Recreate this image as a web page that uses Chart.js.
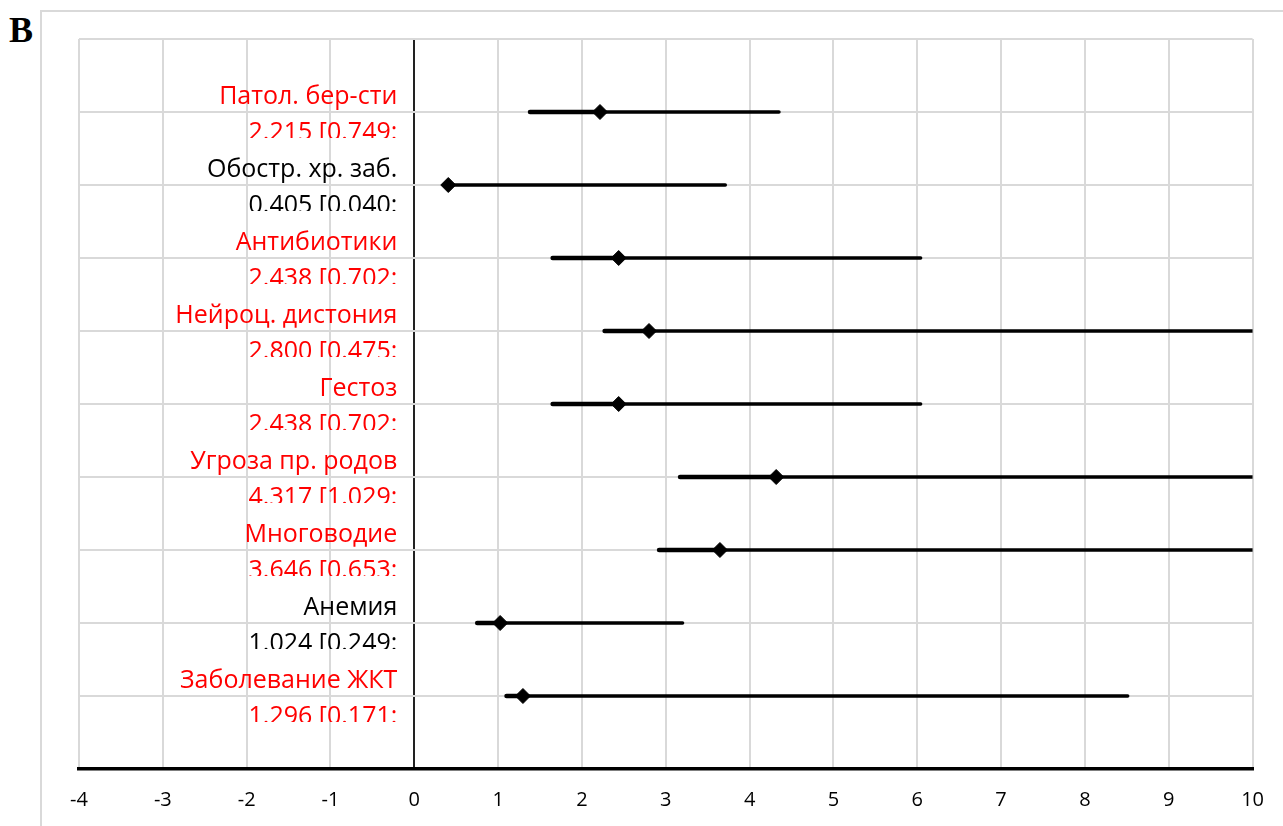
<!DOCTYPE html>
<html>
<head>
<meta charset="utf-8">
<script src="https://cdn.jsdelivr.net/npm/chart.js@4.4.1/dist/chart.umd.min.js"></script>
<style>
  html, body { margin: 0; padding: 0; background: #fff; overflow: hidden; }
  .page { position: relative; width: 1283px; height: 826px; overflow: hidden; }
  .frame { position: absolute; left: 40px; top: 10px; width: 1400px; height: 1000px; border: 2px solid #d9d9d9; }
  .panel-letter { position: absolute; left: 9px; top: 9px; font: bold 36px "Liberation Serif", "DejaVu Serif", serif; color: #000; }
  #forest { position: absolute; left: 0; top: 0; }
</style>
</head>
<body>
<div class="page">
  <div class="frame"></div>
  <div class="panel-letter">B</div>
  <canvas id="forest" width="1283" height="826"></canvas>
</div>
<script>
// rows, top to bottom
const rowNames = ['Патол. бер-сти', 'Обостр. хр. заб.', 'Антибиотики', 'Нейроц. дистония', 'Гестоз',
  'Угроза пр. родов', 'Многоводие', 'Анемия', 'Заболевание ЖКТ'];
const rowStats = ['2.215 [0.749:', '0.405 [0.040:', '2.438 [0.702:', '2.800 [0.475:', '2.438 [0.702:',
  '4.317 [1.029:', '3.646 [0.653:', '1.024 [0.249:', '1.296 [0.171:'];
const rowPos = [9, 8, 7, 6, 5, 4, 3, 2, 1];
const significant = [true, false, true, true, true, true, true, false, true];

// odds ratio and the drawn whisker ends
const oddsRatio = [2.215, 0.405, 2.438, 2.800, 2.438, 4.317, 3.646, 1.024, 1.296];
const barLow = [1.38, 0.405, 1.65, 2.27, 1.65, 3.17, 2.92, 0.75, 1.10];
const barHigh = [4.35, 3.71, 6.04, 12, 6.04, 12, 12, 3.20, 8.51];

const xMin = -4, xMax = 10, yMin = 0, yMax = 10;

const lowSegs = rowPos.map((y, i) => ({
  type: 'line',
  data: [{ x: barLow[i], y: y }, { x: oddsRatio[i], y: y }],
  borderColor: '#000', borderWidth: 4.5, borderCapStyle: 'round',
  pointRadius: 0, showLine: true
}));
const highSegs = rowPos.map((y, i) => ({
  type: 'line',
  data: [{ x: oddsRatio[i], y: y }, { x: barHigh[i], y: y }],
  borderColor: '#000', borderWidth: 3.5, borderCapStyle: 'round',
  pointRadius: 0, showLine: true
}));

const rowLabels = {
  id: 'rowLabels',
  afterDraw(chart) {
    const ctx = chart.ctx;
    const xs = chart.scales.x, ys = chart.scales.y;
    const right = xs.getPixelForValue(0) - 17;
    ctx.save();
    ctx.font = '25px "Open Sans", "Noto Sans", sans-serif';
    ctx.textAlign = 'right';
    ctx.textBaseline = 'alphabetic';
    rowPos.forEach((v, i) => {
      const y = ys.getPixelForValue(v);
      ctx.save();
      ctx.beginPath();
      ctx.rect(0, y - 38, right + 10, 64);
      ctx.clip();
      ctx.fillStyle = significant[i] ? '#ff0000' : '#000';
      ctx.fillText(rowNames[i], right, y - 8);
      ctx.fillText(rowStats[i], right, y + 28);
      ctx.restore();
    });
    ctx.restore();
  }
};

new Chart(document.getElementById('forest'), {
  type: 'scatter',
  data: {
    datasets: [
      {
        data: rowPos.map((y, i) => ({ x: oddsRatio[i], y: y })),
        pointStyle: 'rectRot', pointRadius: 7.5, pointHoverRadius: 7.5,
        backgroundColor: '#000', borderColor: '#000', borderWidth: 1
      },
      ...lowSegs,
      ...highSegs
    ]
  },
  options: {
    responsive: false,
    animation: false,
    events: [],
    layout: { padding: { left: 79, top: 39, right: 30, bottom: 0 } },
    plugins: { legend: { display: false }, tooltip: { enabled: false } },
    scales: {
      x: {
        type: 'linear', min: xMin, max: xMax,
        ticks: { stepSize: 1, color: '#000', padding: 19,
          font: { family: '"Open Sans", "Noto Sans", sans-serif', size: 20 } },
        grid: {
          drawTicks: false,
          color: c => c.tick && c.tick.value === 0 ? '#222' : '#d9d9d9',
          lineWidth: 2
        },
        border: { display: true, color: '#000', width: 3.5 },
        afterFit(scale) { scale.height = 57; }
      },
      y: {
        type: 'linear', min: yMin, max: yMax,
        ticks: { stepSize: 1, display: false },
        grid: { drawTicks: false, color: '#d9d9d9', lineWidth: 2 },
        border: { display: false },
        afterFit(scale) { scale.width = 0; }
      }
    }
  },
  plugins: [rowLabels]
});
</script>
</body>
</html>
